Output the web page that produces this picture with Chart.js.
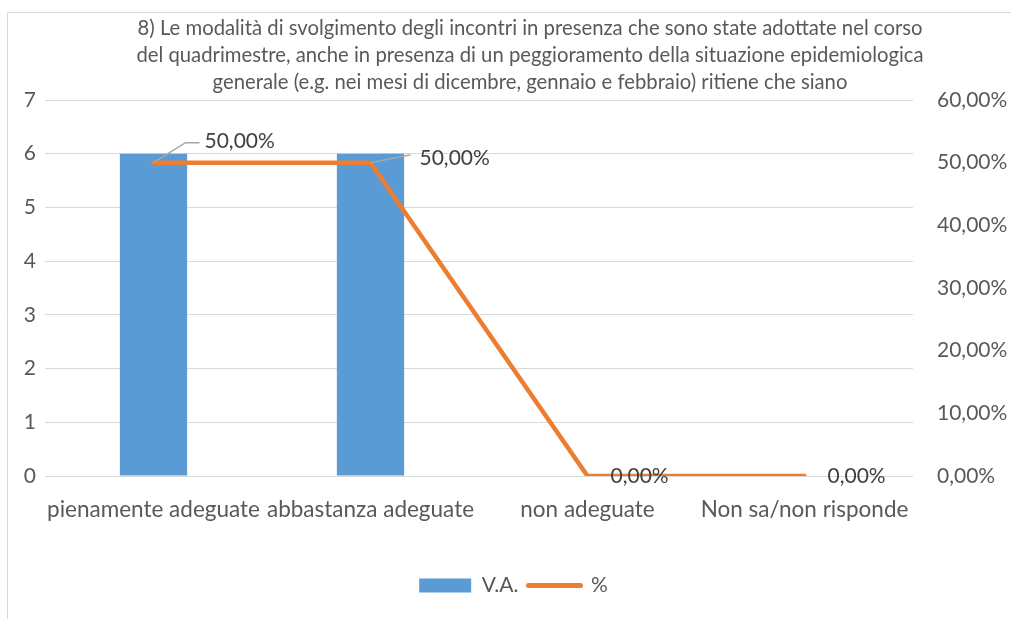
<!DOCTYPE html>
<html>
<head>
<meta charset="utf-8">
<script src="https://cdn.jsdelivr.net/npm/chart.js@4.4.1/dist/chart.umd.min.js"></script>
<style>
  html, body { margin: 0; padding: 0; background: #fff; }
  #wrap { width: 1011px; height: 619px; position: relative; }
</style>
</head>
<body>
<div id="wrap"><canvas id="chart"></canvas></div>
<script>
'use strict';

const categories = ['pienamente adeguate', 'abbastanza adeguate', 'non adeguate', 'Non sa/non risponde'];
const vaValues = [6, 6, 0, 0];
const pctValues = [50, 50, 0, 0];
const titleLines = [
    '8) Le modalità di svolgimento degli incontri in presenza che sono state adottate nel corso',
    'del quadrimestre, anche in presenza di un peggioramento della situazione epidemiologica',
    'generale (e.g. nei mesi di dicembre, gennaio e febbraio) ritiene che siano'
];

const FONT = 'Lato, "Open Sans", sans-serif';
const TEXT = '#595959';
const SIZE = 21;

function pct(v) {
    return v.toFixed(2).replace('.', ',') + '%';
}

// frame lines + title
const framePlugin = {
    id: 'frame',
    beforeDraw(chart) {
        const ctx = chart.ctx;
        ctx.save();
        ctx.strokeStyle = '#d9d9d9';
        ctx.lineWidth = 1;
        ctx.beginPath();
        ctx.moveTo(7.5, 619);
        ctx.lineTo(7.5, 12.5);
        ctx.lineTo(1011, 12.5);
        ctx.stroke();
        ctx.restore();
    },
    afterDraw(chart) {
        const ctx = chart.ctx;
        ctx.save();
        ctx.fillStyle = TEXT;
        ctx.font = '20.3px ' + FONT;
        ctx.textAlign = 'center';
        ctx.textBaseline = 'middle';
        titleLines.forEach((t, i) => ctx.fillText(t, 530, 28 + i * 27));
        ctx.restore();
    }
};

// percentage labels with leader lines
const labelPlugin = {
    id: 'pctLabels',
    afterDatasetsDraw(chart) {
        const ctx = chart.ctx;
        const meta = chart.getDatasetMeta(1);
        ctx.save();
        ctx.font = SIZE + 'px ' + FONT;
        ctx.fillStyle = '#404040';
        ctx.textBaseline = 'middle';
        ctx.textAlign = 'left';
        ctx.strokeStyle = '#a6a6a6';
        ctx.lineWidth = 1.5;
        meta.data.forEach((pt, i) => {
            const x = pt.x, y = pt.y;
            const txt = pct(pctValues[i]);
            if (i === 0) {
                ctx.beginPath();
                ctx.moveTo(x, y);
                ctx.lineTo(x + 32, y - 20);
                ctx.lineTo(x + 46, y - 20);
                ctx.stroke();
                ctx.fillText(txt, x + 51, y - 21);
            } else if (i === 1) {
                ctx.beginPath();
                ctx.moveTo(x, y);
                ctx.lineTo(x + 40, y - 8);
                ctx.stroke();
                ctx.fillText(txt, x + 49, y - 4);
            } else {
                ctx.fillText(txt, x + 23, y);
            }
        });
        ctx.restore();
    }
};

new Chart(document.getElementById('chart'), {
    type: 'bar',
    data: {
        labels: categories,
        datasets: [
            {
                label: 'V.A.',
                data: vaValues,
                backgroundColor: '#5B9BD5',
                yAxisID: 'y',
                order: 2,
                categoryPercentage: 1,
                barPercentage: 0.31
            },
            {
                type: 'line',
                label: '%',
                data: pctValues,
                borderColor: '#ED7D31',
                backgroundColor: '#ED7D31',
                borderWidth: 4.5,
                borderCapStyle: 'round',
                pointRadius: 0,
                tension: 0,
                yAxisID: 'y1',
                order: 1
            }
        ]
    },
    options: {
        responsive: true,
        maintainAspectRatio: false,
        animation: false,
        devicePixelRatio: 1,
        layout: { padding: { top: 100, bottom: 13, left: 16, right: 0 } },
        plugins: {
            title: { display: false },
            tooltip: { enabled: false },
            legend: {
                position: 'bottom',
                labels: {
                    usePointStyle: true,
                    pointStyleWidth: 52,
                    boxHeight: 14,
                    padding: 10,
                    color: TEXT,
                    font: { family: FONT, size: SIZE },
                    generateLabels: () => [
                        { text: 'V.A.', fillStyle: '#5B9BD5', strokeStyle: '#5B9BD5', lineWidth: 0, pointStyle: 'rect', datasetIndex: 0, fontColor: TEXT },
                        { text: '%', fillStyle: '#ED7D31', strokeStyle: '#ED7D31', lineWidth: 5, lineCap: 'round', pointStyle: 'line', datasetIndex: 1, fontColor: TEXT }
                    ]
                }
            }
        },
        scales: {
            x: {
                grid: { display: false },
                border: { display: false },
                ticks: { color: TEXT, font: { family: FONT, size: 22.5 }, padding: 12, maxRotation: 0, autoSkip: false },
                afterFit: (s) => { s.height = 89; }
            },
            y: {
                position: 'left',
                min: 0,
                max: 7,
                ticks: { stepSize: 1, color: TEXT, font: { family: FONT, size: SIZE }, padding: 9 },
                grid: { color: '#d9d9d9', lineWidth: 1, drawTicks: false },
                border: { display: false },
                afterFit: (s) => { s.width = 29; }
            },
            y1: {
                position: 'right',
                min: 0,
                max: 60,
                ticks: { stepSize: 10, color: TEXT, font: { family: FONT, size: SIZE }, padding: 24, callback: (v) => pct(v) },
                grid: { display: false, drawTicks: false },
                border: { display: false },
                afterFit: (s) => { s.width = 98; }
            }
        }
    },
    plugins: [framePlugin, labelPlugin]
});
</script>
</body>
</html>
